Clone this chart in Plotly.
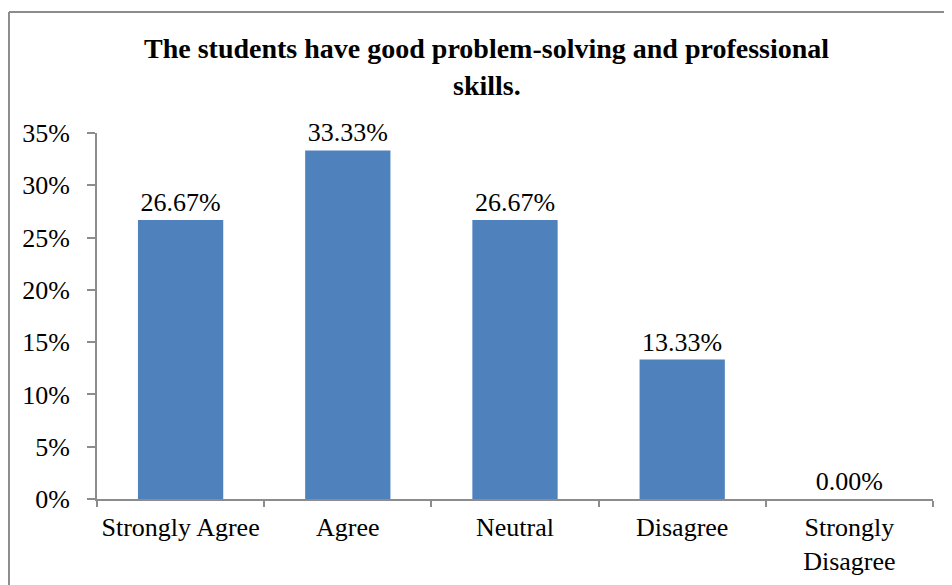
import plotly.graph_objects as go

categories = ["Strongly Agree", "Agree", "Neutral", "Disagree", "Strongly<br>Disagree"]
shares = [26.67, 33.33, 26.67, 13.33, 0.00]
y_ticks = [0, 5, 10, 15, 20, 25, 30, 35]
title_lines = ["The students have good problem-solving and professional", "skills."]

SERIF = "Liberation Serif, Times New Roman, serif"
AXIS_GRAY = "#8c8c8c"

fig = go.Figure(
    go.Bar(
        x=categories,
        y=shares,
        marker=dict(color="#4f81bd", line=dict(width=0)),
        text=[f"{v:.2f}%" for v in shares],
        textposition="outside",
        textfont=dict(family=SERIF, size=26, color="black"),
        cliponaxis=False,
        width=0.51,
    )
)

# title drawn as two annotations so the line spacing stays tight
title_notes = [
    dict(text=f"<b>{line}</b>", xref="paper", yref="paper", x=x, y=y,
         xanchor="center", yanchor="middle", showarrow=False,
         font=dict(family=SERIF, size=28, color="black"))
    for line, x, y in zip(title_lines, [0.466, 0.466], [1.232, 1.130])
]

fig.update_layout(
    width=952,
    height=585,
    margin=dict(l=89, r=27, t=125, b=94),
    paper_bgcolor="white",
    plot_bgcolor="white",
    showlegend=False,
    font=dict(family=SERIF, size=26, color="black"),
    annotations=title_notes,
    # outer chart frame (only top and left edges fall inside the picture)
    shapes=[
        dict(type="line", xref="paper", yref="paper", x0=-0.1053, x1=1.2,
             y0=1.3306, y1=1.3306, line=dict(color=AXIS_GRAY, width=2)),
        dict(type="line", xref="paper", yref="paper", x0=-0.1053, x1=-0.1053,
             y0=-0.3, y1=1.3306, line=dict(color=AXIS_GRAY, width=2)),
    ],
)

fig.update_yaxes(
    range=[0, 35],
    tickvals=y_ticks,
    ticktext=[f"{v}%" for v in y_ticks],
    showgrid=False,
    zeroline=False,
    showline=True,
    linecolor=AXIS_GRAY,
    linewidth=2,
    ticks="outside",
    ticklen=8,
    tickwidth=2,
    tickcolor=AXIS_GRAY,
    ticklabelstandoff=12,
    tickfont=dict(family=SERIF, size=26, color="black"),
    automargin=False,
)

fig.update_xaxes(
    showgrid=False,
    showline=True,
    linecolor=AXIS_GRAY,
    linewidth=2,
    ticks="outside",
    tickson="boundaries",
    ticklen=6,
    tickwidth=2,
    tickcolor=AXIS_GRAY,
    tickangle=0,
    ticklabelstandoff=4,
    tickfont=dict(family=SERIF, size=26, color="black"),
    automargin=False,
)

fig.write_html("out.html")
